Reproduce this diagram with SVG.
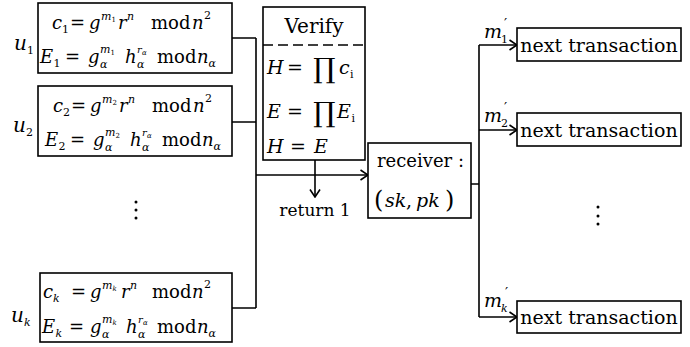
<svg xmlns="http://www.w3.org/2000/svg" width="690" height="347" viewBox="0 0 690 347">
<defs>
<marker id="arr" markerUnits="userSpaceOnUse" viewBox="0 0 10 12" refX="9" refY="6" markerWidth="10" markerHeight="12" orient="auto">
<path d="M1.5,1 L9,6 L1.5,11" fill="none" stroke="#000" stroke-width="1.6"/>
</marker>
<style>
.eq{font-size:18px}
.i{font-style:italic}
.s{font-size:11px}
.t{font-size:10px}
.xs{font-size:7px}
.box{fill:#fff;stroke:#000;stroke-width:1.6}
.ln{fill:none;stroke:#000;stroke-width:1.6}
</style>
</defs>
<rect width="690" height="347" fill="#fff"/>

<g id="connectors">
<path class="ln" d="M232,38 H256 M232,122 H256 M232,308 H256 M256,38 V308"/>
<path class="ln" d="M256,175 H368" marker-end="url(#arr)"/>
<path class="ln" d="M315,160 V197" marker-end="url(#arr)"/>
<path class="ln" d="M471,184 H479 M479,45 V317"/>
<path class="ln" d="M479,45 H517" marker-end="url(#arr)"/>
<path class="ln" d="M479,130 H517" marker-end="url(#arr)"/>
<path class="ln" d="M479,317 H517" marker-end="url(#arr)"/>
</g>

<g id="user1" font-family="DejaVu Serif">
<text class="i" x="14" y="50" font-size="20">u<tspan class="s" font-style="normal" x="27" y="54">1</tspan></text>
<rect class="box" x="38" y="3" width="194" height="70"/>
<text class="eq"><tspan class="i" x="52" y="29">c</tspan><tspan class="s" x="62" y="33">1</tspan><tspan x="70" y="29">=</tspan><tspan class="i" x="89" y="29">g</tspan><tspan class="i s" x="101" y="20">m</tspan><tspan class="xs" x="111.5" y="22">1</tspan><tspan class="i" x="118" y="29">r</tspan><tspan class="i s" x="127" y="20">n</tspan><tspan x="151" y="29">mod</tspan><tspan class="i" x="192" y="29">n</tspan><tspan class="s" x="204" y="19">2</tspan></text>
<text class="eq"><tspan class="i" x="40" y="63">E</tspan><tspan class="s" x="53.5" y="67">1</tspan><tspan x="65" y="63">=</tspan><tspan class="i" x="88" y="63">g</tspan><tspan class="i s" x="100" y="53">m</tspan><tspan class="xs" x="110.5" y="55">1</tspan><tspan class="i s" x="100" y="68">α</tspan><tspan class="i" x="125" y="63">h</tspan><tspan class="i t" x="137" y="53">r</tspan><tspan class="i xs" x="142" y="55">α</tspan><tspan class="i s" x="137" y="68">α</tspan><tspan x="157" y="63">mod</tspan><tspan class="i" x="197" y="63">n</tspan><tspan class="i s" x="208.5" y="67">α</tspan></text>
</g>

<g id="user2" font-family="DejaVu Serif">
<text class="i" x="13" y="132" font-size="20">u<tspan class="s" font-style="normal" x="26" y="136">2</tspan></text>
<rect class="box" x="38" y="86" width="194" height="70"/>
<text class="eq"><tspan class="i" x="53" y="112">c</tspan><tspan class="s" x="63" y="116">2</tspan><tspan x="71" y="112">=</tspan><tspan class="i" x="90" y="112">g</tspan><tspan class="i s" x="102" y="103">m</tspan><tspan class="xs" x="112.5" y="105">2</tspan><tspan class="i" x="119" y="112">r</tspan><tspan class="i s" x="128" y="103">n</tspan><tspan x="152" y="112">mod</tspan><tspan class="i" x="193" y="112">n</tspan><tspan class="s" x="205" y="102">2</tspan></text>
<text class="eq"><tspan class="i" x="45" y="146">E</tspan><tspan class="s" x="58.5" y="150">2</tspan><tspan x="70" y="146">=</tspan><tspan class="i" x="93" y="146">g</tspan><tspan class="i s" x="105" y="136">m</tspan><tspan class="xs" x="115.5" y="138">2</tspan><tspan class="i s" x="105" y="151">α</tspan><tspan class="i" x="130" y="146">h</tspan><tspan class="i t" x="142" y="136">r</tspan><tspan class="i xs" x="147" y="138">α</tspan><tspan class="i s" x="142" y="151">α</tspan><tspan x="162" y="146">mod</tspan><tspan class="i" x="202" y="146">n</tspan><tspan class="i s" x="213.5" y="150">α</tspan></text>
</g>

<g id="dots-left">
<circle cx="136" cy="202" r="1.5"/><circle cx="136" cy="210" r="1.5"/><circle cx="136" cy="218" r="1.5"/>
</g>

<g id="userk" font-family="DejaVu Serif">
<text class="i" x="11" y="322" font-size="20">u<tspan class="s" x="24" y="326">k</tspan></text>
<rect class="box" x="40" y="273" width="192" height="69"/>
<text class="eq"><tspan class="i" x="43" y="298">c</tspan><tspan class="i s" x="53" y="302">k</tspan><tspan x="71" y="298">=</tspan><tspan class="i" x="90" y="298">g</tspan><tspan class="i s" x="102" y="289">m</tspan><tspan class="i xs" x="112.5" y="291">k</tspan><tspan class="i" x="121" y="298">r</tspan><tspan class="i s" x="130" y="289">n</tspan><tspan x="152" y="298">mod</tspan><tspan class="i" x="192" y="298">n</tspan><tspan class="s" x="204" y="288">2</tspan></text>
<text class="eq"><tspan class="i" x="42" y="333">E</tspan><tspan class="i s" x="55.5" y="337">k</tspan><tspan x="69" y="333">=</tspan><tspan class="i" x="90" y="333">g</tspan><tspan class="i s" x="102" y="323">m</tspan><tspan class="i xs" x="112.5" y="325">k</tspan><tspan class="i s" x="102" y="338">α</tspan><tspan class="i" x="126" y="333">h</tspan><tspan class="i t" x="138" y="323">r</tspan><tspan class="i xs" x="143" y="325">α</tspan><tspan class="i s" x="138" y="338">α</tspan><tspan x="157" y="333">mod</tspan><tspan class="i" x="197" y="333">n</tspan><tspan class="i s" x="208.5" y="337">α</tspan></text>
</g>

<g id="verify" font-family="DejaVu Serif">
<rect class="box" x="263" y="7" width="102" height="153"/>
<line x1="263" y1="45" x2="365" y2="45" stroke="#000" stroke-width="1.6" stroke-dasharray="10,5"/>
<text x="314" y="33" text-anchor="middle" font-size="20">Verify</text>
<text font-size="19"><tspan class="i" x="267" y="74">H</tspan><tspan x="287" y="74">=</tspan><tspan x="313" y="78" font-size="28">∏</tspan><tspan class="i" x="339" y="74">c</tspan><tspan class="s" x="350" y="78">i</tspan></text>
<text font-size="19"><tspan class="i" x="267" y="118">E</tspan><tspan x="287" y="118">=</tspan><tspan x="313" y="122" font-size="28">∏</tspan><tspan class="i" x="337" y="118">E</tspan><tspan class="s" x="351.5" y="122">i</tspan></text>
<text font-size="19"><tspan class="i" x="267" y="153">H</tspan><tspan x="290" y="153">=</tspan><tspan class="i" x="314" y="153">E</tspan></text>
</g>

<g id="return" font-family="DejaVu Serif">
<text x="315" y="216" text-anchor="middle" font-size="17">return 1</text>
</g>

<g id="receiver" font-family="DejaVu Serif">
<rect class="box" x="368" y="143" width="103" height="75"/>
<text x="377" y="167" font-size="18">receiver :</text>
<text font-size="19"><tspan x="374" y="208" font-size="24">(</tspan><tspan class="i" x="385" y="207">sk</tspan><tspan x="406" y="207">,</tspan><tspan class="i" x="416" y="207">pk</tspan><tspan x="445" y="208" font-size="24">)</tspan></text>
</g>

<g id="next1" font-family="DejaVu Serif">
<text class="i" x="484" y="38" font-size="19">m<tspan class="s" font-style="normal" x="501" y="43">1</tspan><tspan x="504" y="29" font-size="14" font-style="normal">′</tspan></text>
<rect class="box" x="517" y="28" width="164" height="33"/>
<text x="599" y="52" text-anchor="middle" font-size="19">next transaction</text>
</g>

<g id="next2" font-family="DejaVu Serif">
<text class="i" x="484" y="122" font-size="19">m<tspan class="s" font-style="normal" x="501" y="127">2</tspan><tspan x="504" y="113" font-size="14" font-style="normal">′</tspan></text>
<rect class="box" x="517" y="113" width="164" height="33"/>
<text x="599" y="137" text-anchor="middle" font-size="19">next transaction</text>
</g>

<g id="dots-right">
<circle cx="598" cy="207" r="1.5"/><circle cx="598" cy="216" r="1.5"/><circle cx="598" cy="224" r="1.5"/>
</g>

<g id="nextk" font-family="DejaVu Serif">
<text class="i" x="484" y="307" font-size="19">m<tspan class="s" x="501" y="312">k</tspan><tspan x="505" y="298" font-size="14" font-style="normal">′</tspan></text>
<rect class="box" x="517" y="301" width="164" height="32"/>
<text x="599" y="324" text-anchor="middle" font-size="19">next transaction</text>
</g>
</svg>
